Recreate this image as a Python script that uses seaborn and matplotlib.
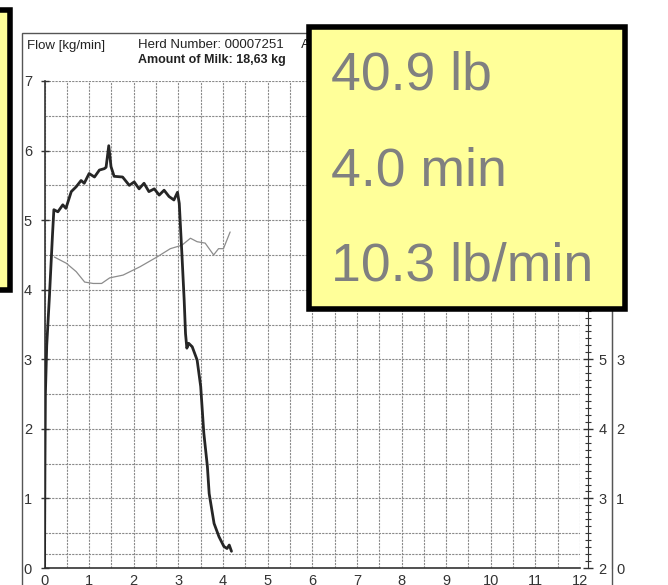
import matplotlib.pyplot as plt
import matplotlib.ticker as mt
from matplotlib.patches import Rectangle
import numpy as np
import pandas as pd
import seaborn as sns

sns.set_style("white")
plt.rcParams['font.family'] = ['Liberation Sans', 'DejaVu Sans']

W, H = 668, 585

def fx(px):
 return px / W

def fy(py):
 return 1 - py / H

# milk flow curve (kg/min)
time_flow = [0.00, 0.01, 0.02, 0.05, 0.11, 0.18, 0.21, 0.30, 0.41, 0.48,
             0.60, 0.71, 0.82, 0.89, 1.00, 1.12, 1.23, 1.34, 1.38, 1.44,
             1.49, 1.56, 1.75, 1.90, 2.01, 2.12, 2.23, 2.34, 2.46, 2.57,
             2.68, 2.79, 2.90, 2.98, 3.02, 3.08, 3.13, 3.16, 3.19, 3.23,
             3.31, 3.42, 3.50, 3.57, 3.65, 3.69, 3.80, 3.91, 4.02, 4.09,
             4.14, 4.19]
flow = [0.0, 1.5, 2.5, 3.2, 3.9, 4.8, 5.15, 5.12, 5.22, 5.17,
        5.41, 5.48, 5.57, 5.53, 5.67, 5.62, 5.72, 5.74, 5.76, 6.07,
        5.77, 5.63, 5.62, 5.50, 5.55, 5.45, 5.53, 5.41, 5.45, 5.36,
        5.43, 5.34, 5.29, 5.40, 5.24, 4.50, 3.85, 3.37, 3.16, 3.23,
        3.18, 2.99, 2.61, 1.94, 1.46, 1.07, 0.64, 0.45, 0.31, 0.28,
        0.33, 0.24]

# thin grey trace
time_cond = [0.22, 0.49, 0.71, 0.90, 1.09, 1.28, 1.46, 1.76, 2.14, 2.52,
             2.82, 3.08, 3.27, 3.42, 3.60, 3.79, 3.90, 4.01, 4.16]
cond = [4.47, 4.38, 4.26, 4.11, 4.09, 4.09, 4.17, 4.21, 4.33, 4.47,
        4.59, 4.64, 4.74, 4.69, 4.67, 4.50, 4.59, 4.59, 4.83]

threshold = 0.2
x_ticks = list(range(0, 13))
y_ticks = list(range(0, 8))
right_offset = 2

header_left = "Flow [kg/min]"
header_herd = "Herd Number: 00007251     A"
header_milk = "Amount of Milk: 18,63 kg"
summary = ["40.9 lb", "4.0 min", "10.3 lb/min"]

fig = plt.figure(figsize=(W / 100, H / 100), dpi=100)

# page frame of the printout
fig.add_artist(Rectangle((fx(22), -0.1), fx(612) - fx(22), fy(33) + 0.1,
                         transform=fig.transFigure, fill=False,
                         edgecolor='#555555', lw=1.0, zorder=1))

ax = fig.add_axes([fx(44.5), fy(568), fx(580) - fx(44.5), fy(81) - fy(568)])

df = pd.DataFrame({"t": time_flow, "f": flow})
dc = pd.DataFrame({"t": time_cond, "c": cond})
sns.lineplot(data=dc, x="t", y="c", ax=ax, color='#8c8c8c', lw=0.9,
             sort=False, estimator=None, zorder=3)
sns.lineplot(data=df, x="t", y="f", ax=ax, color='#262626', lw=2.0,
             sort=False, estimator=None, zorder=4)
ax.axhline(threshold, color='#8a8a8a', lw=0.8, ls=(0, (2, 1)), zorder=1)

ax.set_xlim(0, 12)
ax.set_ylim(0, 7)
ax.set_xticks(x_ticks)
ax.set_yticks(y_ticks)
ax.xaxis.set_minor_locator(mt.MultipleLocator(0.5))
ax.yaxis.set_minor_locator(mt.MultipleLocator(0.5))
ax.grid(True, which='both', color='#8a8a8a', lw=0.8, ls=(0, (2, 1)))
ax.set_xlabel("")
ax.set_ylabel("")
for s in ['top', 'right']:
 ax.spines[s].set_visible(False)
for s in ['left', 'bottom']:
 ax.spines[s].set_color('#333333')
 ax.spines[s].set_linewidth(1.2)
ax.tick_params(axis='both', which='major', direction='inout', length=6,
               width=1, colors='#333333', labelsize=10.5)
ax.tick_params(axis='x', which='minor', direction='inout', length=4,
               width=1, colors='#333333')
ax.tick_params(axis='y', which='minor', length=0)
ax.tick_params(axis='x', pad=1.5)
ax.tick_params(axis='y', pad=6)

# first right scale (offset by 2)
ax2 = ax.twinx()
ax2.set_ylim(0 + right_offset, 7 + right_offset)
ax2.set_yticks([v + right_offset for v in y_ticks])
ax2.yaxis.set_minor_locator(mt.MultipleLocator(0.1))
for s in ['top', 'left', 'bottom']:
 ax2.spines[s].set_visible(False)
ax2.spines['right'].set_position(('outward', 8 * 0.72))
ax2.spines['right'].set_color('#333333')
ax2.tick_params(axis='y', which='major', direction='inout', length=7,
                width=1, colors='#333333', labelsize=10.5, pad=4)
ax2.tick_params(axis='y', which='minor', direction='inout', length=4,
                width=0.8, colors='#333333')

# second right scale
ax3 = ax.twinx()
ax3.set_ylim(0, 7)
ax3.set_yticks(y_ticks)
for s in ['top', 'left', 'bottom']:
 ax3.spines[s].set_visible(False)
ax3.spines['right'].set_position(('outward', 32 * 0.72))
ax3.spines['right'].set_color('#555555')
ax3.tick_params(axis='y', length=0, colors='#333333', labelsize=10.5, pad=3)

# header texts
fig.text(fx(27), fy(49), header_left, fontsize=9.5, color='#222222', zorder=3)
fig.text(fx(138), fy(48), header_herd, fontsize=9.5, color='#222222', zorder=3)
fig.text(fx(138), fy(63), header_milk, fontsize=9, color='#222222',
         fontweight='bold', zorder=3)

# yellow summary box
fig.add_artist(Rectangle((fx(309), fy(309)), fx(625) - fx(309), fy(27) - fy(309),
                         transform=fig.transFigure, facecolor='#ffff99',
                         edgecolor='black', lw=4, zorder=10))
for i, txt in enumerate(summary):
 fig.text(fx(331), fy(90 + 95 * i), txt, fontsize=38.5, color='#808080',
          zorder=11)

# partially visible box on the left
fig.add_artist(Rectangle((fx(-60), fy(290)), fx(9.5) - fx(-60), fy(9.5) - fy(290),
                         transform=fig.transFigure, facecolor='#ffff99',
                         edgecolor='black', lw=4, zorder=10))

plt.savefig("out.png", dpi=100)
